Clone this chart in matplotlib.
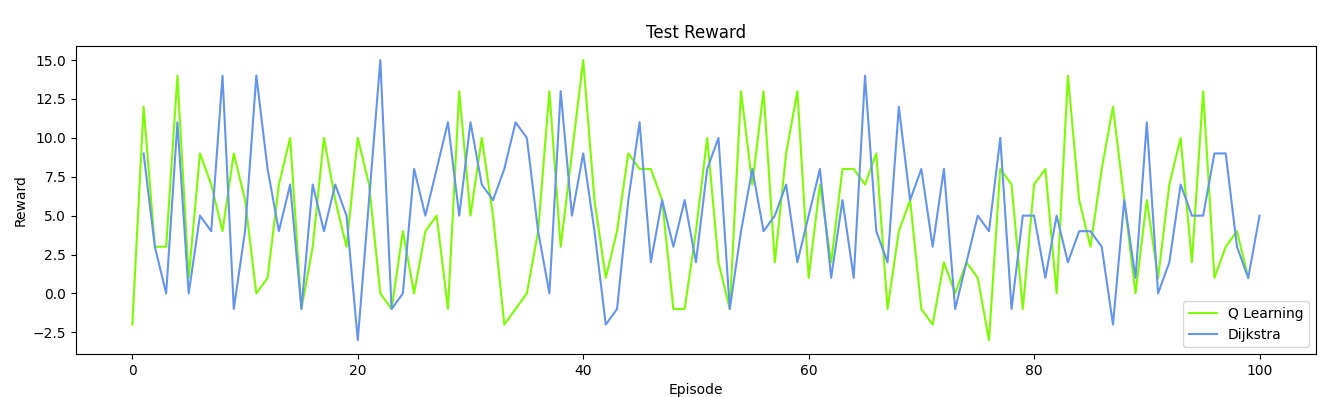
import numpy as np
import matplotlib
matplotlib.use('Agg')
import matplotlib.pyplot as plt

# test rewards per episode
q_episodes = list(range(0, 100))
q_rewards = [-2, 12, 3, 3, 14, 1, 9, 7, 4, 9,
             6, 0, 1, 7, 10, -1, 3, 10, 6, 3,
             10, 7, 0, -1, 4, 0, 4, 5, -1, 13,
             5, 10, 5, -2, -1, 0, 4, 13, 3, 9,
             15, 6, 1, 4, 9, 8, 8, 6, -1, -1,
             4, 10, 2, -1, 13, 7, 13, 2, 9, 13,
             1, 7, 2, 8, 8, 7, 9, -1, 4, 6,
             -1, -2, 2, 0, 2, 1, -3, 8, 7, -1,
             7, 8, 0, 14, 6, 3, 8, 12, 6, 0,
             6, 1, 7, 10, 2, 13, 1, 3, 4, 1]

d_episodes = list(range(1, 101))
d_rewards = [9, 3, 0, 11, 0, 5, 4, 14, -1, 4,
             14, 8, 4, 7, -1, 7, 4, 7, 5, -3,
             6, 15, -1, 0, 8, 5, 8, 11, 5, 11,
             7, 6, 8, 11, 10, 4, 0, 13, 5, 9,
             4, -2, -1, 6, 11, 2, 6, 3, 6, 2,
             8, 10, -1, 4, 8, 4, 5, 7, 2, 5,
             8, 1, 6, 1, 14, 4, 2, 12, 6, 8,
             3, 8, -1, 2, 5, 4, 10, -1, 5, 5,
             1, 5, 2, 4, 4, 3, -2, 6, 1, 11,
             0, 2, 7, 5, 5, 9, 9, 3, 1, 5]

fig = plt.figure(figsize=(13.4, 3.97), dpi=100)
ax = fig.add_axes([0.0567, 0.108, 0.9253, 0.776])
ax.plot(q_episodes, q_rewards, color='lawngreen', label='Q Learning')
ax.plot(d_episodes, d_rewards, color='cornflowerblue', label='Dijkstra')
ax.set_title('Test Reward')
ax.set_xlabel('Episode')
ax.set_ylabel('Reward')
ax.legend(loc='lower right')
fig.savefig('out.png', dpi=100)
